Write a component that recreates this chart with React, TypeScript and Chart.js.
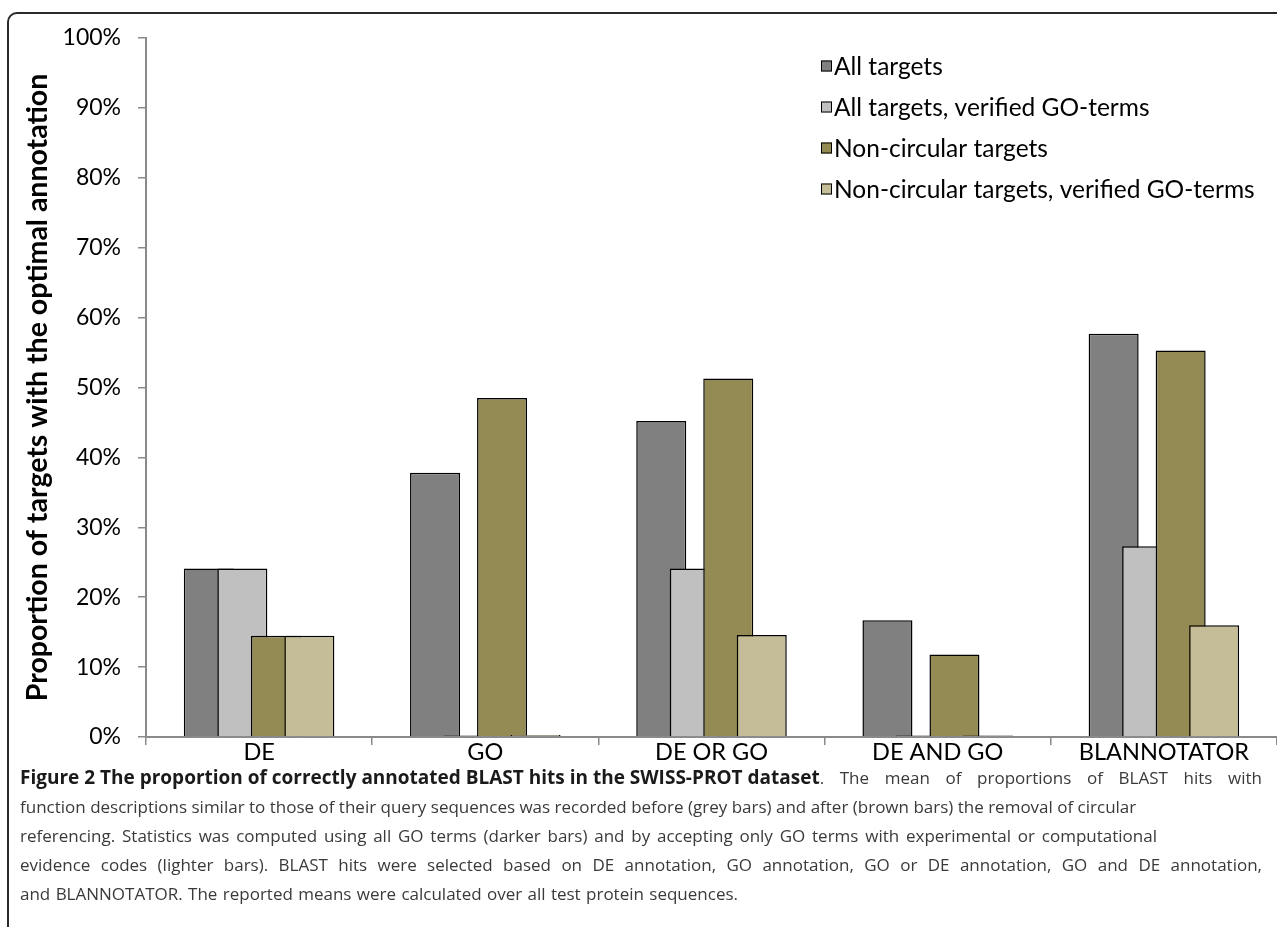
import React, { useEffect, useRef } from "react";
import { Chart, registerables } from "chart.js";

Chart.register(...registerables);

// ---------- data ----------
const categories = ["DE", "GO", "DE OR GO", "DE AND GO", "BLANNOTATOR"];
const seriesNames = [
  "All targets",
  "All targets, verified GO-terms",
  "Non-circular targets",
  "Non-circular targets, verified GO-terms",
];
const allTargets = [24.1, 37.8, 45.2, 16.7, 57.7];
const allTargetsVerified = [24.1, 0.2, 24.1, 0.2, 27.3];
const nonCircular = [14.5, 48.5, 51.3, 11.8, 55.3];
const nonCircularVerified = [14.5, 0.3, 14.6, 0.2, 16.0];
const seriesValues = [allTargets, allTargetsVerified, nonCircular, nonCircularVerified];
const seriesColors = ["#808080", "#c0c0c0", "#948a54", "#c4bd97"];
const yMin = 0;
const yMax = 100;
const yStep = 10;
const yTitle = "Proportion of targets with the optimal annotation";

const captionBold = "Figure 2 The proportion of correctly annotated BLAST hits in the SWISS-PROT dataset";
const captionLines = [
  ". The mean of proportions of BLAST hits with",
  "function descriptions similar to those of their query sequences was recorded before (grey bars) and after (brown bars) the removal of circular",
  "referencing. Statistics was computed using all GO terms (darker bars) and by accepting only GO terms with experimental or computational",
  "evidence codes (lighter bars). BLAST hits were selected based on DE annotation, GO annotation, GO or DE annotation, GO and DE annotation,",
  "and BLANNOTATOR. The reported means were calculated over all test protein sequences.",
];
// widths of the caption lines (null = natural width)
const captionLineWidths: (number | null)[] = [null, null, 1137, 1242, 718];

const CHART_FONT = "Lato, 'Open Sans', sans-serif";
const AXIS_GREY = "#8a8a8a";

// later datasets drawn on top (Excel-like overlap)
const drawOrderPlugin = {
  id: "drawOrder",
  beforeDatasetsDraw(chart: any) {
    const metas = chart.getSortedVisibleDatasetMetas();
    for (let i = 0; i < metas.length; i++) {
      metas[i].controller.draw();
    }
    return false;
  },
};

const cornerLegendPlugin = {
  id: "cornerLegend",
  afterDraw(chart: any) {
    const ctx = chart.ctx;
    const area = chart.chartArea;
    const boxX = area.right - 456;
    const textX = boxX + 13;
    const startY = 66;
    const rowGap = 41;
    const box = 11;
    ctx.save();
    ctx.font = `24.5px ${CHART_FONT}`;
    ctx.textBaseline = "middle";
    ctx.textAlign = "left";
    chart.data.datasets.forEach((ds: any, i: number) => {
      const cy = startY + i * rowGap;
      ctx.fillStyle = ds.backgroundColor;
      ctx.fillRect(boxX, cy - box / 2, box, box);
      ctx.strokeStyle = "#000";
      ctx.lineWidth = 1;
      ctx.strokeRect(boxX + 0.5, cy - box / 2 + 0.5, box - 1, box - 1);
      ctx.fillStyle = "#000";
      ctx.fillText(ds.label, textX, cy + 1);
    });
    ctx.restore();
  },
};

export default function App() {
  const canvasRef = useRef<HTMLCanvasElement>(null);

  useEffect(() => {
    document.body.style.margin = "0";
    const canvas = canvasRef.current;
    if (!canvas) return;
    const chart = new Chart(canvas, {
      type: "bar",
      data: {
        labels: categories,
        datasets: seriesValues.map((vals, i) => ({
          label: seriesNames[i],
          data: vals,
          backgroundColor: seriesColors[i],
          borderColor: "#000000",
          borderWidth: 1.5,
          borderSkipped: "start",
          categoryPercentage: 0.5925,
          barPercentage: 1.4925,
        })),
      },
      options: {
        responsive: false,
        animation: false,
        devicePixelRatio: 1,
        layout: { padding: { top: 38, left: 0, right: 0, bottom: 0 } },
        plugins: {
          legend: { display: false },
          tooltip: { enabled: false },
        },
        scales: {
          x: {
            grid: {
              display: true,
              drawOnChartArea: false,
              drawTicks: true,
              tickLength: 8,
              color: AXIS_GREY,
              lineWidth: 1.5,
              offset: true,
            },
            border: { display: true, color: AXIS_GREY, width: 2 },
            ticks: {
              color: "#000",
              font: { family: CHART_FONT, size: 23.5 },
              padding: -7,
              maxRotation: 0,
              autoSkip: false,
            },
            afterFit: (s: any) => {
              s.height = 40;
            },
          },
          y: {
            min: yMin,
            max: yMax,
            ticks: {
              stepSize: yStep,
              callback: (v: any) => `${v}%`,
              color: "#000",
              font: { family: CHART_FONT, size: 23 },
              padding: 17,
            },
            grid: {
              display: true,
              drawOnChartArea: false,
              tickLength: 8,
              color: AXIS_GREY,
              lineWidth: 1.5,
            },
            border: { display: true, color: AXIS_GREY, width: 2 },
            title: {
              display: true,
              text: yTitle,
              color: "#000",
              font: { family: CHART_FONT, size: 28.5, weight: "bold" },
              padding: { top: 21, bottom: 0 },
            },
            afterFit: (s: any) => {
              s.width = 146;
            },
          },
        },
      },
      plugins: [drawOrderPlugin, cornerLegendPlugin],
    } as any);
    return () => chart.destroy();
  }, []);

  const justified: React.CSSProperties = {
    textAlign: "justify",
    textAlignLast: "justify" as any,
    whiteSpace: "normal",
  };

  return (
    <div
      style={{
        position: "relative",
        width: 1277,
        height: 927,
        overflow: "hidden",
        background: "#fff",
      }}
    >
      <div
        style={{
          position: "absolute",
          left: 7,
          top: 12,
          width: 1300,
          height: 960,
          border: "2px solid #2a2a2a",
          borderRadius: 10,
          boxSizing: "border-box",
        }}
      />
      <canvas
        ref={canvasRef}
        width={1277}
        height={777}
        style={{ position: "absolute", left: 0, top: 0, width: 1277, height: 777 }}
      />
      <div
        style={{
          position: "absolute",
          left: 20,
          top: 763,
          width: 1242,
          fontFamily: "'Open Sans', sans-serif",
          fontSize: 17,
          lineHeight: "29px",
          color: "#3a3a3a",
        }}
      >
        <div style={{ display: "flex", alignItems: "baseline", whiteSpace: "nowrap" }}>
          <span style={{ fontWeight: 700, color: "#1a1a1a", fontSize: 19, flex: "none" }}>{captionBold}</span>
          <span style={{ ...justified, flex: "1 1 auto" }}>{captionLines[0]}</span>
        </div>
        {captionLines.slice(1).map((l, i) => {
          const w = captionLineWidths[i + 1];
          return (
            <div key={i} style={w ? { ...justified, width: w } : { whiteSpace: "nowrap" }}>
              {l}
            </div>
          );
        })}
      </div>
    </div>
  );
}
